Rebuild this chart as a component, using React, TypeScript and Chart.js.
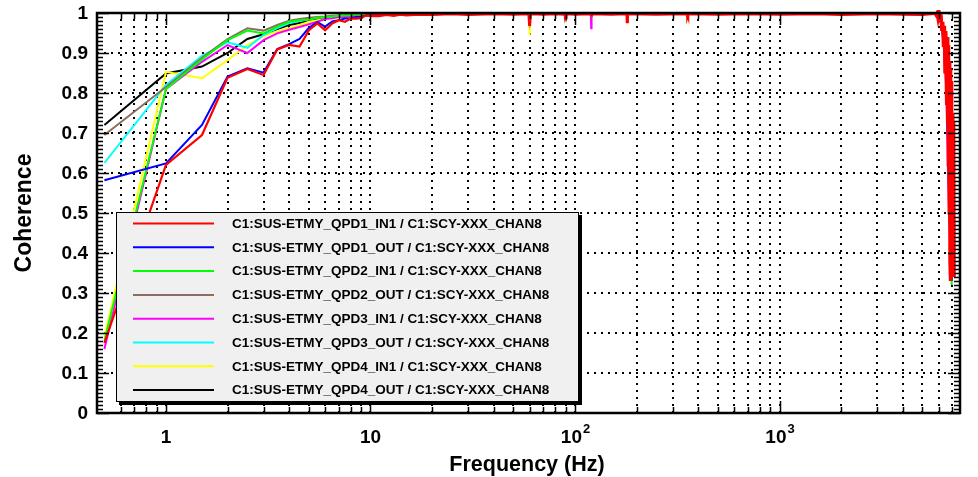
import { useEffect, useRef } from "react";
import { Chart, registerables } from "chart.js";

Chart.register(...registerables);

const FONT = "'Liberation Sans', Arial, Helvetica, sans-serif";

// ---------------- axis ranges / tick labels ----------------
const X_MIN = 0.46;
const X_MAX = 7630;
const xLabelValues = [1, 10, 100, 1000];
const xLabelBase = ["1", "10", "10", "10"];
const xLabelExp = ["", "", "2", "3"];
const yLabelValues = [0, 0.1, 0.2, 0.3, 0.4, 0.5, 0.6, 0.7, 0.8, 0.9, 1];
const yLabelTexts = ["0", "0.1", "0.2", "0.3", "0.4", "0.5", "0.6", "0.7", "0.8", "0.9", "1"];

// ---------------- frequencies (Hz) ----------------
const lowFrequencies = [0.5, 1, 1.5, 2, 2.5, 3, 3.5, 4, 4.5, 5, 5.5, 6, 6.5, 7, 7.5, 8, 8.5, 9, 9.5, 10];
const midFrequencies = [
  11, 12, 13, 14, 15, 17, 20, 25, 30, 40,
  50, 59.5, 60, 60.5, 70, 80, 89.5, 90, 90.5, 100,
  119.5, 120, 120.5, 150, 179.5, 180, 180.5, 250, 355, 356,
  357, 500, 700, 1000, 1500, 2000, 3000, 4000, 5000, 5500,
];
const redTailFrequencies = [
  5760, 5830, 5900, 5960, 6025, 6090, 6160, 6220, 6281, 6340,
  6400, 6445, 6500, 6569, 6600, 6644, 6670, 6689, 6720, 6765,
  6790, 6820, 6850, 6874, 6900, 6930, 6952, 6990, 7030, 7060,
  7078, 7100, 7120, 7134,
];
const tailFrequencies = [5760, 6000, 6200, 6400, 6550, 6650, 6750, 6850, 6950];

// ---------------- series ----------------
const seriesLabels = [
  "C1:SUS-ETMY_QPD1_IN1 / C1:SCY-XXX_CHAN8",
  "C1:SUS-ETMY_QPD1_OUT / C1:SCY-XXX_CHAN8",
  "C1:SUS-ETMY_QPD2_IN1 / C1:SCY-XXX_CHAN8",
  "C1:SUS-ETMY_QPD2_OUT / C1:SCY-XXX_CHAN8",
  "C1:SUS-ETMY_QPD3_IN1 / C1:SCY-XXX_CHAN8",
  "C1:SUS-ETMY_QPD3_OUT / C1:SCY-XXX_CHAN8",
  "C1:SUS-ETMY_QPD4_IN1 / C1:SCY-XXX_CHAN8",
  "C1:SUS-ETMY_QPD4_OUT / C1:SCY-XXX_CHAN8",
];
const seriesColors = ["#ff0000", "#0000ff", "#00ff00", "#8c6e5f", "#ff00ff", "#00ffff", "#ffff00", "#000000"];

// QPD1_IN1 (red)
const qpd1InLow = [0.175, 0.62, 0.695, 0.838, 0.86, 0.845, 0.909, 0.92, 0.916, 0.957, 0.974, 0.957, 0.974, 0.982, 0.978, 0.986, 0.986, 0.987, 0.994, 0.993];
const qpd1InMid = [
  0.993, 0.996, 0.994, 0.997, 0.995, 0.997, 0.996, 0.998, 0.996, 0.998,
  0.997, 0.998, 0.968, 0.998, 0.997, 0.998, 0.997, 0.982, 0.998, 0.997,
  0.998, 0.995, 0.998, 0.997, 0.998, 0.978, 0.998, 0.997, 0.998, 0.996,
  0.998, 0.997, 0.998, 0.997, 0.998, 0.996, 0.998, 0.997, 0.996, 0.998,
];
const qpd1InTail = [
  0.999, 0.995, 1.0, 0.987, 1.0, 0.978, 0.996, 0.955, 0.978, 0.915,
  0.968, 0.853, 0.955, 0.77, 0.94, 0.725, 0.92, 0.616, 0.9, 0.5,
  0.88, 0.38, 0.86, 0.33, 0.83, 0.34, 0.77, 0.36, 0.75, 0.35,
  0.73, 0.38, 0.72, 0.34,
];

// QPD1_OUT (blue)
const qpd1OutLow = [0.582, 0.624, 0.72, 0.841, 0.862, 0.851, 0.91, 0.922, 0.935, 0.963, 0.977, 0.966, 0.979, 0.982, 0.986, 0.987, 0.99, 0.99, 0.994, 0.994];
const qpd1OutMid = [
  0.995, 0.997, 0.996, 0.998, 0.997, 0.998, 0.998, 0.999, 0.998, 0.999,
  0.998, 0.999, 0.99, 0.999, 0.998, 0.999, 0.998, 0.994, 0.999, 0.998,
  0.999, 0.997, 0.999, 0.998, 0.999, 0.99, 0.999, 0.998, 0.999, 0.998,
  0.999, 0.998, 0.999, 0.998, 0.999, 0.998, 0.999, 0.998, 0.998, 0.999,
];
const qpd1OutTail = [0.998, 0.994, 0.97, 0.92, 0.83, 0.7, 0.55, 0.42, 0.33];

// QPD2_IN1 (green)
const qpd2InLow = [0.18, 0.81, 0.884, 0.932, 0.956, 0.949, 0.966, 0.978, 0.982, 0.984, 0.988, 0.99, 0.991, 0.993, 0.994, 0.995, 0.996, 0.996, 0.997, 0.997];
const qpd2InMid = [
  0.998, 0.998, 0.999, 0.998, 0.999, 0.999, 0.999, 0.999, 0.998, 0.999,
  0.999, 0.999, 0.985, 0.999, 0.999, 0.999, 0.999, 0.996, 0.999, 0.999,
  0.999, 0.993, 0.999, 0.999, 0.999, 0.992, 0.999, 0.999, 0.999, 0.997,
  0.999, 0.999, 0.999, 0.999, 0.999, 0.998, 0.999, 0.999, 0.998, 0.999,
];
const qpd2InTail = [0.998, 0.995, 0.975, 0.93, 0.85, 0.72, 0.55, 0.42, 0.32];

// QPD2_OUT (brown)
const qpd2OutLow = [0.695, 0.815, 0.888, 0.935, 0.962, 0.956, 0.97, 0.981, 0.985, 0.988, 0.99, 0.991, 0.993, 0.994, 0.995, 0.996, 0.996, 0.997, 0.997, 0.997];
const qpd2OutMid = [
  0.998, 0.999, 0.998, 0.999, 0.999, 0.999, 0.999, 0.999, 0.999, 0.999,
  0.999, 0.999, 0.988, 0.999, 0.999, 0.999, 0.999, 0.997, 0.999, 0.999,
  0.999, 0.994, 0.999, 0.999, 0.999, 0.993, 0.999, 0.999, 0.999, 0.998,
  0.999, 0.999, 0.999, 0.999, 0.999, 0.999, 0.999, 0.998, 0.999, 0.999,
];
const qpd2OutTail = [0.998, 0.995, 0.975, 0.93, 0.85, 0.72, 0.56, 0.43, 0.34];

// QPD3_IN1 (magenta)
const qpd3InLow = [0.16, 0.81, 0.878, 0.92, 0.9, 0.932, 0.949, 0.958, 0.965, 0.972, 0.978, 0.985, 0.987, 0.99, 0.99, 0.992, 0.993, 0.995, 0.996, 0.996];
const qpd3InMid = [
  0.996, 0.997, 0.997, 0.998, 0.998, 0.998, 0.999, 0.998, 0.999, 0.999,
  0.998, 0.999, 0.982, 0.999, 0.999, 0.998, 0.999, 0.995, 0.999, 0.999,
  0.999, 0.962, 0.999, 0.999, 0.999, 0.99, 0.999, 0.999, 0.999, 0.985,
  0.999, 0.998, 0.999, 0.999, 0.998, 0.999, 0.999, 0.998, 0.999, 0.999,
];
const qpd3InTail = [0.998, 0.993, 0.97, 0.9, 0.8, 0.62, 0.5, 0.4, 0.33];

// QPD3_OUT (cyan)
const qpd3OutLow = [0.625, 0.82, 0.893, 0.927, 0.913, 0.945, 0.962, 0.975, 0.98, 0.985, 0.988, 0.99, 0.991, 0.993, 0.994, 0.995, 0.996, 0.996, 0.997, 0.997];
const qpd3OutMid = [
  0.998, 0.998, 0.999, 0.999, 0.998, 0.999, 0.999, 0.999, 0.999, 0.999,
  0.999, 0.999, 0.986, 0.999, 0.999, 0.999, 0.999, 0.996, 0.999, 0.999,
  0.999, 0.993, 0.999, 0.999, 0.999, 0.992, 0.999, 0.999, 0.999, 0.997,
  0.999, 0.999, 0.999, 0.998, 0.999, 0.999, 0.999, 0.999, 0.998, 0.999,
];
const qpd3OutTail = [0.998, 0.994, 0.972, 0.92, 0.84, 0.7, 0.55, 0.42, 0.33];

// QPD4_IN1 (yellow)
const qpd4InLow = [0.19, 0.853, 0.837, 0.882, 0.92, 0.942, 0.954, 0.962, 0.97, 0.978, 0.982, 0.985, 0.988, 0.99, 0.992, 0.993, 0.994, 0.995, 0.996, 0.996];
const qpd4InMid = [
  0.997, 0.997, 0.998, 0.998, 0.998, 0.999, 0.998, 0.999, 0.999, 0.999,
  0.999, 0.999, 0.945, 0.999, 0.999, 0.999, 0.999, 0.993, 0.999, 0.999,
  0.999, 0.99, 0.999, 0.999, 0.999, 0.99, 0.999, 0.999, 0.999, 0.996,
  0.999, 0.999, 0.999, 0.999, 0.998, 0.999, 0.999, 0.999, 0.998, 0.999,
];
const qpd4InTail = [0.998, 0.994, 0.972, 0.92, 0.84, 0.7, 0.55, 0.42, 0.33];

// QPD4_OUT (black)
const qpd4OutLow = [0.72, 0.849, 0.866, 0.9, 0.935, 0.947, 0.96, 0.97, 0.975, 0.98, 0.985, 0.988, 0.99, 0.992, 0.993, 0.994, 0.995, 0.996, 0.996, 0.997];
const qpd4OutMid = [
  0.998, 0.998, 0.998, 0.999, 0.998, 0.999, 0.999, 0.999, 0.999, 0.999,
  0.999, 0.999, 0.987, 0.999, 0.999, 0.999, 0.999, 0.996, 0.999, 0.999,
  0.999, 0.994, 0.999, 0.999, 0.999, 0.993, 0.999, 0.999, 0.999, 0.998,
  0.999, 0.999, 0.999, 0.999, 0.999, 0.999, 0.998, 0.999, 0.999, 0.999,
];
const qpd4OutTail = [0.998, 0.995, 0.975, 0.93, 0.85, 0.71, 0.55, 0.42, 0.33];

const seriesLow = [qpd1InLow, qpd1OutLow, qpd2InLow, qpd2OutLow, qpd3InLow, qpd3OutLow, qpd4InLow, qpd4OutLow];
const seriesMid = [qpd1InMid, qpd1OutMid, qpd2InMid, qpd2OutMid, qpd3InMid, qpd3OutMid, qpd4InMid, qpd4OutMid];
const seriesTail = [qpd1InTail, qpd1OutTail, qpd2InTail, qpd2OutTail, qpd3InTail, qpd3OutTail, qpd4InTail, qpd4OutTail];

function buildPoints(i: number) {
  const pts: { x: number; y: number }[] = [];
  lowFrequencies.forEach((f, k) => pts.push({ x: f, y: seriesLow[i][k] }));
  midFrequencies.forEach((f, k) => pts.push({ x: f, y: seriesMid[i][k] }));
  const tf = i === 0 ? redTailFrequencies : tailFrequencies;
  tf.forEach((f, k) => pts.push({ x: f, y: seriesTail[i][k] }));
  return pts;
}

// grid positions along x: 1..9 times each decade inside range (ROOT starts at 0.6)
function xGridValues(): number[] {
  const out: number[] = [];
  for (const d of [0.1, 1, 10, 100, 1000]) {
    for (let m = 1; m <= 9; m++) {
      const v = +(m * d).toPrecision(6);
      if (v >= 0.6 && v < X_MAX) out.push(v);
    }
  }
  return out;
}

const framePlugin = {
  id: "rootFrame",
  beforeDatasetsDraw(chart: any) {
    const { ctx, chartArea: a, scales } = chart;
    const xs = scales.x;
    const ys = scales.y;
    ctx.save();
    ctx.strokeStyle = "#000";
    ctx.lineWidth = 2;
    ctx.setLineDash([2, 5]);
    for (let k = 1; k <= 9; k++) {
      const py = Math.round(ys.getPixelForValue(k / 10));
      ctx.beginPath();
      ctx.moveTo(a.left, py);
      ctx.lineTo(a.right, py);
      ctx.stroke();
    }
    for (const v of xGridValues()) {
      const px = Math.round(xs.getPixelForValue(v));
      ctx.beginPath();
      ctx.moveTo(px, a.bottom);
      ctx.lineTo(px, a.top);
      ctx.stroke();
    }
    ctx.restore();
  },
  afterDatasetsDraw(chart: any) {
    const { ctx, chartArea: a, scales } = chart;
    const xs = scales.x;
    const ys = scales.y;
    ctx.save();
    ctx.strokeStyle = "#000";
    ctx.setLineDash([]);
    ctx.lineWidth = 1.5;
    // y ticks (left and right)
    for (let k = 0; k <= 100; k++) {
      const py = Math.round(ys.getPixelForValue(k / 100)) + 0.5;
      const len = k % 10 === 0 ? 12 : 6;
      ctx.beginPath();
      ctx.moveTo(a.left, py);
      ctx.lineTo(a.left + len, py);
      ctx.moveTo(a.right, py);
      ctx.lineTo(a.right - len, py);
      ctx.stroke();
    }
    // x ticks (bottom and top)
    for (const v of xGridValues()) {
      const px = Math.round(xs.getPixelForValue(v)) + 0.5;
      const major = xLabelValues.includes(v);
      const len = major ? 12 : 6;
      ctx.beginPath();
      ctx.moveTo(px, a.bottom);
      ctx.lineTo(px, a.bottom - len);
      ctx.moveTo(px, a.top);
      ctx.lineTo(px, a.top + len);
      ctx.stroke();
    }
    // frame
    ctx.lineWidth = 2.5;
    ctx.strokeRect(a.left, a.top, a.right - a.left, a.bottom - a.top);
    ctx.restore();
  },
  afterDraw(chart: any) {
    const { ctx, chartArea: a, scales } = chart;
    const xs = scales.x;
    const ys = scales.y;
    ctx.save();
    ctx.fillStyle = "#000";
    // y tick labels
    ctx.font = `bold 19px ${FONT}`;
    ctx.textAlign = "right";
    ctx.textBaseline = "middle";
    yLabelValues.forEach((v, i) => {
      ctx.fillText(yLabelTexts[i], a.left - 9, ys.getPixelForValue(v) + 1);
    });
    // x tick labels with superscript exponents
    xLabelValues.forEach((v, i) => {
      const px = xs.getPixelForValue(v);
      const base = xLabelBase[i];
      const exp = xLabelExp[i];
      ctx.font = `bold 19px ${FONT}`;
      const bw = ctx.measureText(base).width;
      ctx.font = `bold 13px ${FONT}`;
      const ew = exp ? ctx.measureText(exp).width : 0;
      const start = px - (bw + ew) / 2;
      ctx.textBaseline = "middle";
      ctx.textAlign = "left";
      ctx.font = `bold 19px ${FONT}`;
      ctx.fillText(base, start, a.bottom + 25);
      if (exp) {
        ctx.font = `bold 13px ${FONT}`;
        ctx.fillText(exp, start + bw + 1, a.bottom + 16);
      }
    });
    // axis titles
    ctx.font = `bold 21.5px ${FONT}`;
    ctx.textAlign = "center";
    ctx.textBaseline = "middle";
    ctx.fillText("Frequency (Hz)", 527, a.bottom + 52);
    ctx.save();
    ctx.translate(25, 213);
    ctx.rotate(-Math.PI / 2);
    ctx.font = `bold 23px ${FONT}`;
    ctx.fillText("Coherence", 0, 0);
    ctx.restore();

    // legend box
    const lx = a.left + 19;
    const ly = a.top + 199;
    const lw = 463;
    const lh = 190;
    ctx.fillStyle = "#000";
    ctx.fillRect(lx + 3, ly + 3, lw, lh);
    ctx.fillStyle = "#f0f0f0";
    ctx.fillRect(lx, ly, lw, lh);
    ctx.strokeStyle = "#000";
    ctx.lineWidth = 1;
    ctx.strokeRect(lx + 0.5, ly + 0.5, lw - 1, lh - 1);
    ctx.font = `bold 13.5px ${FONT}`;
    ctx.textAlign = "left";
    ctx.textBaseline = "middle";
    chart.data.datasets.forEach((ds: any, i: number) => {
      const cy = ly + 11.5 + i * 23.8;
      ctx.strokeStyle = ds.borderColor;
      ctx.lineWidth = 2;
      ctx.beginPath();
      ctx.moveTo(lx + 17, cy);
      ctx.lineTo(lx + 98, cy);
      ctx.stroke();
      ctx.fillStyle = "#000";
      ctx.fillText(ds.label, lx + 116, cy + 0.5);
    });
    ctx.restore();
  },
};

export default function App() {
  const canvasRef = useRef<HTMLCanvasElement | null>(null);

  useEffect(() => {
    if (!canvasRef.current) return;
    const chart = new Chart(canvasRef.current, {
      type: "line",
      data: {
        datasets: seriesLabels.map((label, i) => ({
          label,
          data: buildPoints(i),
          borderColor: seriesColors[i],
          backgroundColor: seriesColors[i],
          borderWidth: 2,
          pointRadius: 0,
          tension: 0,
          fill: false,
          clip: { left: 0, right: 0, top: 3, bottom: 0 },
          segment:
            i === 0
              ? {
                  borderWidth: (c: any) =>
                    c.p0.parsed.x >= 5700 ? 3.5 : c.p0.parsed.x >= 10 ? 3 : 2.2,
                }
              : undefined,
        })),
      },
      options: {
        animation: false,
        responsive: true,
        maintainAspectRatio: false,
        devicePixelRatio: 1,
        layout: { padding: { top: 13, right: 18, left: 0, bottom: 0 } },
        plugins: {
          legend: { display: false },
          tooltip: { enabled: false },
          title: { display: false },
        },
        scales: {
          x: {
            type: "logarithmic",
            min: X_MIN,
            max: X_MAX,
            grid: { display: false, drawTicks: false },
            border: { display: false },
            ticks: { display: false },
            afterFit: (s: any) => {
              s.height = 64;
            },
          },
          y: {
            type: "linear",
            min: 0,
            max: 1,
            grid: { display: false, drawTicks: false },
            border: { display: false },
            ticks: { display: false },
            afterFit: (s: any) => {
              s.width = 97;
            },
          },
        },
      } as any,
      plugins: [framePlugin],
    });
    return () => chart.destroy();
  }, []);

  return (
    <div style={{ position: "absolute", left: 0, top: 0, width: 978, height: 477, background: "#fff" }}>
      <canvas ref={canvasRef} />
    </div>
  );
}
